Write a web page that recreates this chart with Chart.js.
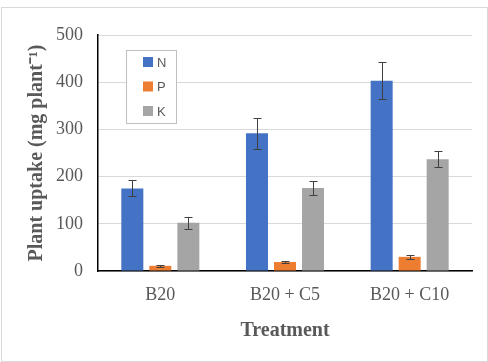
<!DOCTYPE html>
<html>
<head>
<meta charset="utf-8">
<script src="https://cdn.jsdelivr.net/npm/chart.js@4.4.0/dist/chart.umd.min.js"></script>
<style>
  html, body { margin: 0; padding: 0; background: #fff; }
  #wrap { position: relative; width: 488px; height: 362px; }
  #frame { position: absolute; left: 1px; top: 7px; width: 485px; height: 353px; border: 1px solid #d9d9d9; pointer-events: none; }
  canvas { position: absolute; left: 0; top: 0; }
</style>
</head>
<body>
<div id="wrap">
  <canvas id="c" width="488" height="362"></canvas>
  <div id="frame"></div>
</div>
<script>
// data
var treatments = ["B20", "B20 + C5", "B20 + C10"];
var nUptake = [175, 292, 403];
var nError  = [17, 33, 39];
var pUptake = [11, 19, 30];
var pError  = [2, 3, 4];
var kUptake = [102, 176, 237];
var kError  = [12, 14, 17];
var yTicks  = [0, 100, 200, 300, 400, 500];

var textGray = "#595959";
var serif = "'Liberation Serif', 'Times New Roman', serif";

// error bars, drawn from the same y scale as the bars
var errorBars = {
  id: "errorBars",
  afterDatasetsDraw: function(chart) {
    var ctx = chart.ctx;
    var y = chart.scales.y;
    ctx.save();
    ctx.strokeStyle = "#404040";
    ctx.lineWidth = 1;
    chart.data.datasets.forEach(function(ds, di) {
      var meta = chart.getDatasetMeta(di);
      meta.data.forEach(function(bar, i) {
        var v = ds.data[i], e = ds.errors[i];
        var x = Math.round(bar.x) + 0.5;
        var top = Math.round(y.getPixelForValue(v + e)) + 0.5;
        var bot = Math.round(y.getPixelForValue(v - e)) + 0.5;
        ctx.beginPath();
        ctx.moveTo(x, top); ctx.lineTo(x, bot);
        ctx.moveTo(x - 4, top); ctx.lineTo(x + 4, top);
        ctx.moveTo(x - 4, bot); ctx.lineTo(x + 4, bot);
        ctx.stroke();
      });
    });
    ctx.restore();
  }
};

// boxed legend sitting inside the plot, top left
var boxLegend = {
  id: "boxLegend",
  afterDraw: function(chart) {
    var ctx = chart.ctx;
    var a = chart.chartArea;
    var bx = a.left + 28, by = a.top + 15;
    ctx.save();
    ctx.fillStyle = "#fff";
    ctx.fillRect(bx, by, 50, 73);
    ctx.strokeStyle = "#bfbfbf";
    ctx.lineWidth = 1;
    ctx.strokeRect(bx + 0.5, by + 0.5, 50, 73);
    ctx.font = "13px 'Liberation Sans', Arial, sans-serif";
    ctx.textBaseline = "middle";
    chart.data.datasets.forEach(function(ds, i) {
      var cy = by + 12 + i * 24.5;
      ctx.fillStyle = ds.backgroundColor;
      ctx.fillRect(bx + 17, cy - 5, 10, 10);
      ctx.fillStyle = textGray;
      ctx.fillText(ds.label, bx + 31, cy + 1);
    });
    ctx.restore();
  }
};

new Chart(document.getElementById("c"), {
  type: "bar",
  data: {
    labels: treatments,
    datasets: [
      { label: "N", data: nUptake, errors: nError, backgroundColor: "#4472C4" },
      { label: "P", data: pUptake, errors: pError, backgroundColor: "#ED7D31" },
      { label: "K", data: kUptake, errors: kError, backgroundColor: "#A5A5A5" }
    ]
  },
  options: {
    responsive: false,
    animation: false,
    devicePixelRatio: 1,
    categoryPercentage: 0.674,
    barPercentage: 0.786,
    layout: { padding: { top: 35, right: 16, left: 0, bottom: 0 } },
    plugins: {
      legend: { display: false },
      tooltip: { enabled: false }
    },
    scales: {
      x: {
        grid: { display: false },
        border: { color: "#000", width: 1.5 },
        ticks: { color: textGray, font: { family: serif, size: 18 }, padding: 5 },
        title: { display: true, text: "Treatment", color: textGray,
                 font: { family: serif, size: 20, weight: "bold" }, padding: 19 },
        afterFit: function(s) { s.height = 91; }
      },
      y: {
        min: 0, max: 500,
        afterBuildTicks: function(s) { s.ticks = yTicks.map(function(v) { return { value: v }; }); },
        grid: { color: "#d9d9d9", drawTicks: false },
        border: { color: "#000", width: 1.5 },
        ticks: { color: textGray, font: { family: serif, size: 18 }, padding: 15 },
        title: { display: true, text: "Plant uptake (mg plant\u207B\u00B9)", color: textGray,
                 font: { family: serif, size: 20, weight: "bold" }, padding: { top: 25, bottom: 0 } },
        afterFit: function(s) { s.width = 98; }
      }
    }
  },
  plugins: [errorBars, boxLegend]
});
</script>
</body>
</html>
